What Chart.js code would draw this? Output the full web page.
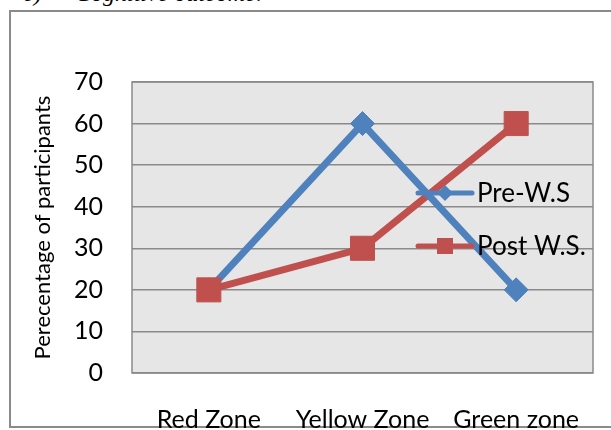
<!DOCTYPE html>
<html>
<head>
<meta charset="utf-8">
<script src="https://cdn.jsdelivr.net/npm/chart.js@4/dist/chart.umd.min.js"></script>
<style>
  html, body { margin: 0; padding: 0; background: #fff; overflow: hidden; }
  #wrap { position: relative; width: 611px; height: 430px; overflow: hidden; }
  #frame { position: absolute; left: 9px; top: 10px; width: 640px; height: 418px;
           border: 2px solid #8a8a8a; box-sizing: border-box; }
  .cap { position: absolute; top: -19px; font: italic 24px "Liberation Serif", serif;
         line-height: 1; color: #000; white-space: pre; }
  canvas { position: absolute; left: 0; top: 0; }
</style>
</head>
<body>
<div id="wrap">
  <div class="cap" style="left:23px">c)</div>
  <div class="cap" style="left:75px">Cognitive outcome:</div>
  <div id="frame"></div>
  <canvas id="c" width="611" height="430"></canvas>
</div>
<script>
// Zones on the horizontal axis and the share of participants in each
const categories = ['Red Zone', 'Yellow Zone', 'Green zone'];
const preWS = [20, 60, 20];
const postWS = [20, 30, 60];
const seriesNames = ['Pre-W.S', 'Post W.S.'];
const yTickValues = [0, 10, 20, 30, 40, 50, 60, 70];
const yAxisTitle = 'Perecentage of participants';

const BLUE = '#4f81bd';
const RED = '#c0504d';
const FONT = 'Lato, "Open Sans", sans-serif';

// Grey plot background, frame, and series drawn lines-first then markers
const plotFrame = {
  id: 'plotFrame',
  beforeDraw(chart) {
    const { ctx, chartArea: a } = chart;
    ctx.save();
    ctx.fillStyle = '#e6e6e6';
    ctx.fillRect(a.left, a.top, a.width, a.height);
    ctx.restore();
  },
  beforeDatasetsDraw(chart) {
    const { ctx, chartArea: a } = chart;
    ctx.save();
    ctx.strokeStyle = '#8a8a8a';
    ctx.lineWidth = 1.5;
    ctx.strokeRect(a.left, a.top, a.width, a.height);
    ctx.restore();
    const pre = chart.getDatasetMeta(0);
    const post = chart.getDatasetMeta(1);
    // connecting lines: pre-workshop line lies above the post-workshop one
    [post, pre].forEach(m => m.dataset.draw(ctx, a));
    // markers: post-workshop squares sit above the diamonds
    [pre, post].forEach(m => m.data.forEach(p => p.draw(ctx, a)));
    return false;
  }
};

// Legend placed inside the plot, on the right
const insetLegend = {
  id: 'insetLegend',
  afterDraw(chart) {
    const { ctx } = chart;
    const rowsY = [193, 246];
    const x0 = 418, x1 = 472, cx = 445, tx = 477;
    chart.data.datasets.forEach((ds, i) => {
      const y = rowsY[i];
      ctx.save();
      ctx.strokeStyle = ds.borderColor;
      ctx.lineWidth = 5;
      ctx.lineCap = 'round';
      ctx.beginPath();
      ctx.moveTo(x0, y);
      ctx.lineTo(x1, y);
      ctx.stroke();
      ctx.fillStyle = ds.pointBackgroundColor;
      ctx.beginPath();
      if (ds.pointStyle === 'rectRot') {
        const r = 8;
        ctx.moveTo(cx, y - r); ctx.lineTo(cx + r, y); ctx.lineTo(cx, y + r); ctx.lineTo(cx - r, y);
        ctx.closePath();
      } else {
        ctx.rect(cx - 8, y - 8, 16, 16);
      }
      ctx.fill();
      ctx.fillStyle = '#000';
      ctx.font = '26px ' + FONT;
      ctx.textBaseline = 'middle';
      ctx.textAlign = 'left';
      ctx.fillText(ds.label, tx, y + 1);
      ctx.restore();
    });
  }
};

new Chart(document.getElementById('c'), {
  type: 'line',
  data: {
    labels: categories,
    datasets: [
      {
        label: seriesNames[0],
        data: preWS,
        borderColor: BLUE,
        backgroundColor: BLUE,
        borderWidth: 7,
        pointStyle: 'rectRot',
        pointRadius: 12,
        pointBorderWidth: 1,
        pointBackgroundColor: BLUE,
        pointBorderColor: BLUE,
        tension: 0
      },
      {
        label: seriesNames[1],
        data: postWS,
        borderColor: RED,
        backgroundColor: RED,
        borderWidth: 7,
        pointStyle: 'rect',
        pointRadius: 17,
        pointBorderWidth: 1,
        pointBackgroundColor: RED,
        pointBorderColor: RED,
        tension: 0
      }
    ]
  },
  options: {
    responsive: false,
    animation: false,
    events: [],
    layout: { padding: { left: 0, right: 16, top: 82, bottom: 0 } },
    plugins: { legend: { display: false }, tooltip: { enabled: false } },
    scales: {
      x: {
        offset: true,
        grid: { display: false, drawTicks: false },
        border: { display: false },
        ticks: { color: '#000', font: { family: FONT, size: 25 }, padding: 32, maxRotation: 0, autoSkip: false },
        afterFit(s) { s.height = 57; s.paddingLeft = 0; s.paddingRight = 0; }
      },
      y: {
        min: 0,
        max: 70,
        afterBuildTicks(s) { s.ticks = yTickValues.map(v => ({ value: v })); },
        grid: { color: '#8a8a8a', lineWidth: 1.5, drawTicks: false },
        border: { display: false },
        ticks: { color: '#000', font: { family: FONT, size: 25 }, padding: 29 },
        title: { display: true, text: yAxisTitle, color: '#000', font: { family: FONT, size: 22 }, padding: { top: 30, bottom: 0 } },
        afterFit(s) { s.width = 132; s.paddingTop = 0; s.paddingBottom = 0; }
      }
    }
  },
  plugins: [plotFrame, insetLegend]
});
</script>
</body>
</html>
